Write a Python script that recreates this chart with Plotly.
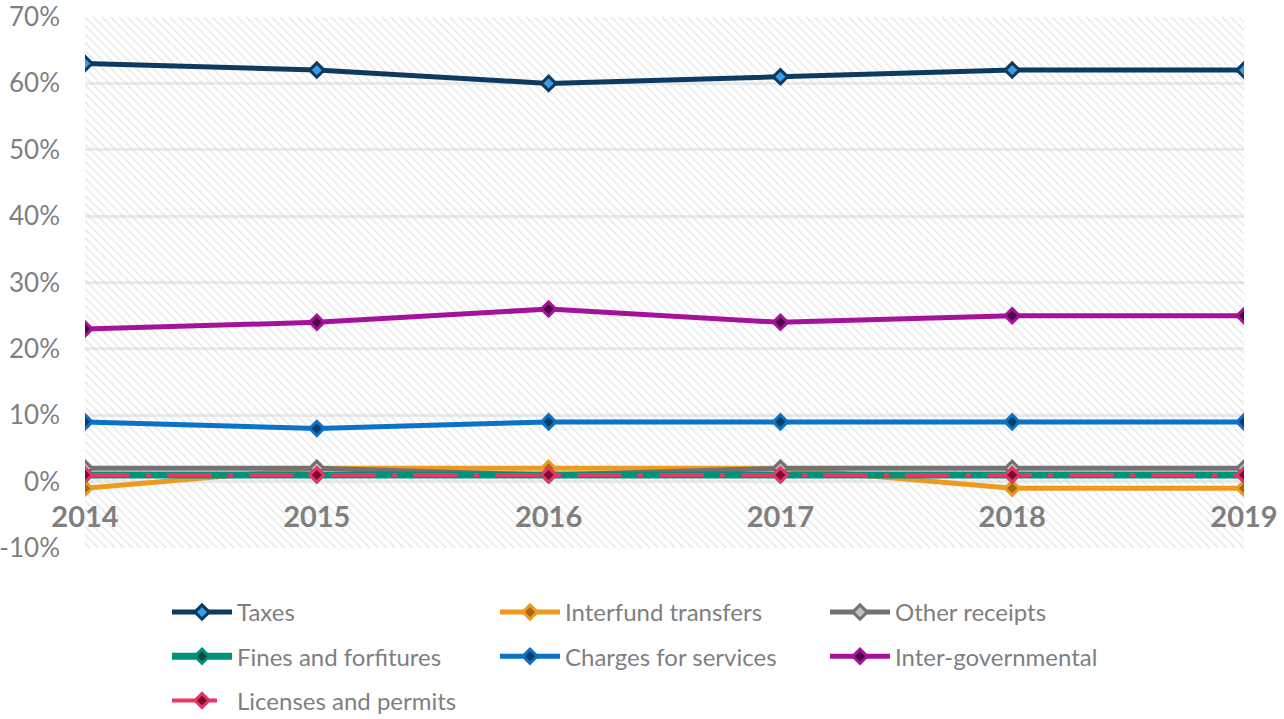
import plotly.graph_objects as go

# Share of total revenue by source, 2014-2019 (percent)
years = [2014, 2015, 2016, 2017, 2018, 2019]
taxes = [63, 62, 60, 61, 62, 62]
interfund_transfers = [-1, 2, 2, 2, -1, -1]
other_receipts = [2, 2, 1, 2, 2, 2]
fines_and_forfitures = [1, 1, 1, 1, 1, 1]
charges_for_services = [9, 8, 9, 9, 9, 9]
inter_governmental = [23, 24, 26, 24, 25, 25]
licenses_and_permits = [1, 1, 1, 1, 1, 1]

y_min, y_max = -10, 70
y_ticks = list(range(y_min, y_max + 1, 10))
y_tick_text = [f"{v}%" for v in y_ticks]

FONT = "Lato, Roboto, sans-serif"
GREY_TEXT = "#7f7f7f"

# name, values, line colour, marker fill, dash, line width, legend column
series = [
    ("Taxes", taxes, "#0d3a5f", "#3d9be6", "solid", 5, "legend"),
    ("Interfund transfers", interfund_transfers, "#ee9a1f", "#a9670f", "solid", 5, "legend2"),
    ("Other receipts", other_receipts, "#767171", "#c0c0c0", "solid", 5, "legend3"),
    ("Fines and forfitures", fines_and_forfitures, "#00917a", "#0b4a3f", "solid", 7, "legend"),
    ("Charges for services", charges_for_services, "#0a72c7", "#0b3d6b", "solid", 5, "legend2"),
    ("Inter-governmental", inter_governmental, "#a4129a", "#4b0a45", "solid", 5, "legend3"),
    ("Licenses and permits", licenses_and_permits, "#e63768", "#7d0c2e", "45px,16px,5px,16px", 4, "legend"),
]

fig = go.Figure()

# Hatched plot-area background
fig.add_trace(go.Scatter(
    x=[years[0], years[-1], years[-1], years[0], years[0]],
    y=[y_min, y_min, y_max, y_max, y_min],
    mode="lines", line=dict(width=0), fill="toself",
    fillcolor="rgba(0,0,0,0)",
    fillpattern=dict(shape="\\", fgcolor="#d0d0d0", bgcolor="rgba(0,0,0,0)",
                     size=6, solidity=0.25),
    hoverinfo="skip", showlegend=False,
))

for name, values, line_color, fill_color, dash, width, legend_id in series:
    fig.add_trace(go.Scatter(
        x=years, y=values, name=name, mode="lines+markers",
        legend=legend_id, legendgroup=name,
        line=dict(color=line_color, width=width, dash=dash),
        marker=dict(symbol="diamond", size=11, color=fill_color,
                    line=dict(color=line_color, width=3)),
    ))

# plot area: 85..1244 px wide, 17..548 px tall
PLOT_L, PLOT_W, PLOT_B, PLOT_H = 85, 1159, 548, 531
FIG_W, FIG_H = 1284, 719

legend_style = dict(
    orientation="v", xanchor="left", yanchor="top",
    xref="paper", yref="container", y=1 - 590 / FIG_H,
    font=dict(family=FONT, size=24, color=GREY_TEXT),
    itemwidth=60, tracegroupgap=10, bgcolor="rgba(0,0,0,0)",
)

fig.update_layout(
    width=FIG_W, height=FIG_H,
    margin=dict(l=PLOT_L, r=FIG_W - PLOT_L - PLOT_W, t=PLOT_B - PLOT_H, b=FIG_H - PLOT_B),
    paper_bgcolor="white", plot_bgcolor="white",
    font=dict(family=FONT, color=GREY_TEXT, size=24),
    showlegend=True,
    legend=dict(legend_style, x=(167 - PLOT_L) / PLOT_W),
    legend2=dict(legend_style, x=(495 - PLOT_L) / PLOT_W),
    legend3=dict(legend_style, x=(825 - PLOT_L) / PLOT_W),
    xaxis=dict(
        range=[years[0], years[-1]], tickvals=years, ticktext=[str(y) for y in years],
        showgrid=False, zeroline=False, showline=False, automargin=False,
        anchor="free", position=(0 - y_min) / (y_max - y_min),
        ticks="", ticklabelstandoff=15,
        tickfont=dict(family=FONT, size=29, color=GREY_TEXT, weight="bold"),
    ),
    yaxis=dict(
        range=[y_min, y_max], tickvals=y_ticks, ticktext=y_tick_text,
        showgrid=True, gridcolor="#ebebeb", gridwidth=3, automargin=False,
        zeroline=False, showline=False, ticks="", ticklabelstandoff=24,
        tickfont=dict(family=FONT, size=26, color=GREY_TEXT),
    ),
)

fig.write_html("out.html")
